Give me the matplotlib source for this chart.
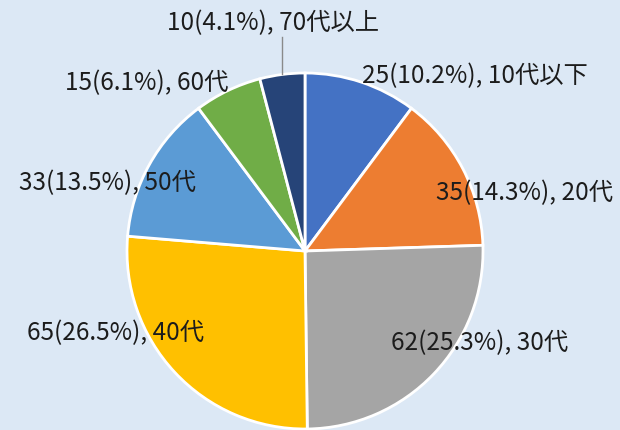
import numpy as np
import matplotlib.pyplot as plt

plt.rcParams['font.family'] = ['Noto Sans CJK JP', 'DejaVu Sans']

ages = ['10代以下', '20代', '30代', '40代', '50代', '60代', '70代以上']
counts = [25, 35, 62, 65, 33, 15, 10]
colors = ['#4472C4', '#ED7D31', '#A5A5A5', '#FFC000', '#5B9BD5', '#70AD47', '#264478']

# label centres in pixel space (y measured from the top)
label_xy = [(475, 76), (524, 193), (480, 343), (115, 333), (107, 183), (147, 83), (273, 23)]

W, H = 620, 431
cx, cy, r = 305, 252, 178
bg = '#DCE8F5'

fig = plt.figure(figsize=(W / 100, H / 100), dpi=100, facecolor=bg)
ax = fig.add_axes([0, 0, 1, 1])
ax.set_facecolor(bg)

ax.pie(counts, colors=colors, startangle=90, counterclock=False,
       center=(cx, H - cy), radius=r, frame=True,
       wedgeprops=dict(edgecolor='white', linewidth=2))

total = sum(counts)
for n, age, (lx, ly) in zip(counts, ages, label_xy):
    pct = n / total * 100
    ax.text(lx, H - ly, f'{n}({pct:.1f}%), {age}', ha='center', va='center',
            fontsize=17.5, color='#1c1c1c')

# leader line for the smallest slice
cum = np.cumsum(counts)
mid = 90 - 360 * (cum[-1] - counts[-1] / 2) / total
ex = cx + r * np.cos(np.radians(mid))
ey = H - cy + r * np.sin(np.radians(mid))
ax.plot([ex, ex], [H - 38, ey], color='#8a8a8a', linewidth=1)

ax.set_xlim(0, W)
ax.set_ylim(0, H)
ax.set_aspect('equal')
ax.axis('off')

fig.savefig('out.png', dpi=100, facecolor=bg)
